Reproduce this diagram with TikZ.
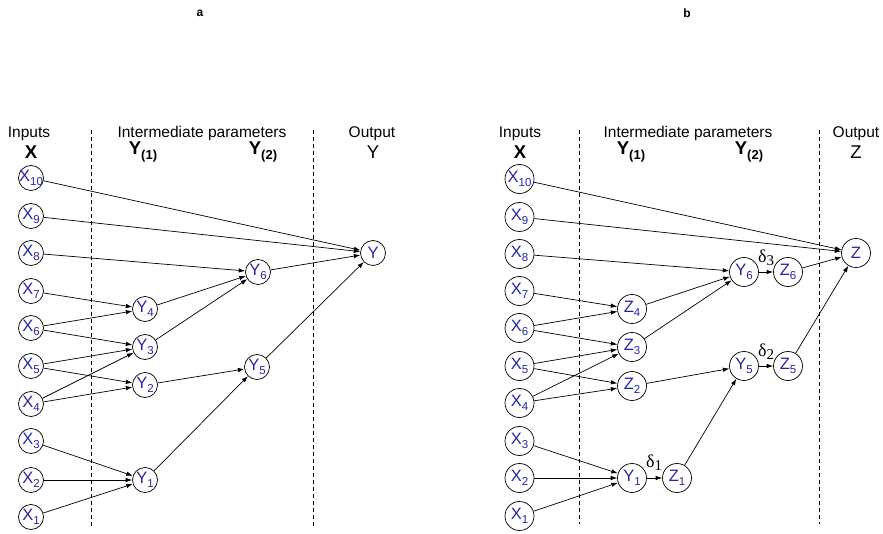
\documentclass[tikz,border=0pt]{standalone}
\usepackage{fontspec}
\setmainfont{Liberation Sans}
\newfontfamily\serifdelta{Liberation Serif}
\usetikzlibrary{arrows.meta}
\definecolor{nodeblue}{RGB}{38,38,165}
\newcommand\nl[2]{\makebox[0pt]{#1\raisebox{-0.45ex}{\fontsize{11.5}{12}\selectfont #2}}}
\newcommand\hsub[2]{#1\raisebox{-0.5ex}{\fontsize{13}{14}\selectfont\bfseries #2}}
\newcommand\dl[1]{{\serifdelta δ\raisebox{-0.35ex}{\fontsize{15}{16}\selectfont #1}}}
\begin{document}
\begin{tikzpicture}[x=1pt,y=-1pt,
  nda/.style={circle,draw,line width=0.7pt,minimum size=25pt,inner sep=0pt,text=nodeblue,font=\fontsize{16.5}{17}\selectfont},
  ndb/.style={nda,minimum size=29pt},
  arr/.style={-{Latex[length=6.5pt,width=4.5pt]},line width=0.7pt},
  sep/.style={dashed,dash pattern=on 4pt off 3pt,line width=0.7pt},
  hd/.style={font=\fontsize{15.5}{16}\selectfont,inner sep=0pt},
  hb/.style={font=\fontsize{18.5}{19}\selectfont\bfseries,inner sep=0pt},
  hr/.style={font=\fontsize{18.5}{19}\selectfont,inner sep=0pt},
  ttl/.style={font=\fontsize{12}{13}\selectfont\bfseries,inner sep=0pt},
  dlt/.style={font=\fontsize{18}{19}\selectfont,inner sep=0pt}]
\useasboundingbox (0,0) rectangle (883,534);

% ---------- panel a ----------
\node[ttl] (ta) at (200,13) {a};
\node[hd] (ina) at (29,134) {Inputs};
\node[hb] (xa) at (31,152) {X};
\node[hd] (ima) at (202,133) {Intermediate parameters};
\node[hb] (y1a) at (143,152) {\hsub{Y}{(1)}};
\node[hb] (y2a) at (263,152) {\hsub{Y}{(2)}};
\node[hd] (outa) at (372,134) {Output};
\node[hr] (ya) at (373,152) {Y};
\coordinate (sa1t) at (91,130); \coordinate (sa1b) at (91,527);
\coordinate (sa2t) at (313,130); \coordinate (sa2b) at (313,527);
\draw[sep] (sa1t) -- (sa1b);
\draw[sep] (sa2t) -- (sa2b);

\node[nda] (ax10) at (31,178) {\nl{X}{10}};
\node[nda] (ax9) at (31,216) {\nl{X}{9}};
\node[nda] (ax8) at (31,253) {\nl{X}{8}};
\node[nda] (ax7) at (31,291) {\nl{X}{7}};
\node[nda] (ax6) at (31,328) {\nl{X}{6}};
\node[nda] (ax5) at (31,366) {\nl{X}{5}};
\node[nda] (ax4) at (31,404) {\nl{X}{4}};
\node[nda] (ax3) at (31,441) {\nl{X}{3}};
\node[nda] (ax2) at (31,480) {\nl{X}{2}};
\node[nda] (ax1) at (31,517) {\nl{X}{1}};
\node[nda] (ay4) at (145,309) {\nl{Y}{4}};
\node[nda] (ay3) at (145,347) {\nl{Y}{3}};
\node[nda] (ay2) at (145,385) {\nl{Y}{2}};
\node[nda] (ay1) at (145,480) {\nl{Y}{1}};
\node[nda] (ay5) at (257,367) {\nl{Y}{5}};
\node[nda] (ay6) at (258,272) {\nl{Y}{6}};
\node[nda] (ay) at (373,253) {Y};

\draw[arr] (ax10) -- (ay);
\draw[arr] (ax9) -- (ay);
\draw[arr] (ax8) -- (ay6);
\draw[arr] (ax7) -- (ay4);
\draw[arr] (ax6) -- (ay4);
\draw[arr] (ax6) -- (ay3);
\draw[arr] (ax5) -- (ay3);
\draw[arr] (ax5) -- (ay2);
\draw[arr] (ax4) -- (ay3);
\draw[arr] (ax4) -- (ay2);
\draw[arr] (ax3) -- (ay1);
\draw[arr] (ax2) -- (ay1);
\draw[arr] (ax1) -- (ay1);
\draw[arr] (ay4) -- (ay6);
\draw[arr] (ay3) -- (ay6);
\draw[arr] (ay2) -- (ay5);
\draw[arr] (ay1) -- (ay5);
\draw[arr] (ay6) -- (ay);
\draw[arr] (ay5) -- (ay);

% ---------- panel b ----------
\node[ttl] (tb) at (687,13) {b};
\node[hd] (inb) at (520,134) {Inputs};
\node[hb] (xb) at (520,152) {X};
\node[hd] (imb) at (688,133) {Intermediate parameters};
\node[hb] (y1b) at (631,152) {\hsub{Y}{(1)}};
\node[hb] (y2b) at (749,152) {\hsub{Y}{(2)}};
\node[hd] (outb) at (856,134) {Output};
\node[hr] (zb) at (856,152) {Z};
\coordinate (sb1t) at (579,130); \coordinate (sb1b) at (579,524);
\coordinate (sb2t) at (819,130); \coordinate (sb2b) at (819,524);
\draw[sep] (sb1t) -- (sb1b);
\draw[sep] (sb2t) -- (sb2b);

\node[ndb] (bx10) at (519.5,179) {\nl{X}{10}};
\node[ndb] (bx9) at (519.5,217) {\nl{X}{9}};
\node[ndb] (bx8) at (519.5,254) {\nl{X}{8}};
\node[ndb] (bx7) at (519.5,291) {\nl{X}{7}};
\node[ndb] (bx6) at (519.5,328) {\nl{X}{6}};
\node[ndb] (bx5) at (519.5,366) {\nl{X}{5}};
\node[ndb] (bx4) at (519.5,403) {\nl{X}{4}};
\node[ndb] (bx3) at (519.5,441) {\nl{X}{3}};
\node[ndb] (bx2) at (519.5,478) {\nl{X}{2}};
\node[ndb] (bx1) at (519.5,516) {\nl{X}{1}};
\node[ndb] (bz4) at (632,309) {\nl{Z}{4}};
\node[ndb] (bz3) at (632,347) {\nl{Z}{3}};
\node[ndb] (bz2) at (632,386) {\nl{Z}{2}};
\node[ndb] (by1) at (632,478) {\nl{Y}{1}};
\node[ndb] (bz1) at (677,478) {\nl{Z}{1}};
\node[ndb] (by5) at (744,366) {\nl{Y}{5}};
\node[ndb] (bz5) at (788,366) {\nl{Z}{5}};
\node[ndb] (by6) at (744,272) {\nl{Y}{6}};
\node[ndb] (bz6) at (788,272) {\nl{Z}{6}};
\node[ndb] (bz) at (856,253) {Z};

\node[dlt] (d1) at (654,463) {\dl{1}};
\node[dlt] (d2) at (766,352) {\dl{2}};
\node[dlt] (d3) at (766,258) {\dl{3}};

\draw[arr] (bx10) -- (bz);
\draw[arr] (bx9) -- (bz);
\draw[arr] (bx8) -- (by6);
\draw[arr] (bx7) -- (bz4);
\draw[arr] (bx6) -- (bz4);
\draw[arr] (bx6) -- (bz3);
\draw[arr] (bx5) -- (bz3);
\draw[arr] (bx5) -- (bz2);
\draw[arr] (bx4) -- (bz3);
\draw[arr] (bx4) -- (bz2);
\draw[arr] (bx3) -- (by1);
\draw[arr] (bx2) -- (by1);
\draw[arr] (bx1) -- (by1);
\draw[arr] (by1) -- (bz1);
\draw[arr] (bz1) -- (by5);
\draw[arr] (bz2) -- (by5);
\draw[arr] (by5) -- (bz5);
\draw[arr] (bz5) -- (bz);
\draw[arr] (bz4) -- (by6);
\draw[arr] (bz3) -- (by6);
\draw[arr] (by6) -- (bz6);
\draw[arr] (bz6) -- (bz);
\end{tikzpicture}
\end{document}
